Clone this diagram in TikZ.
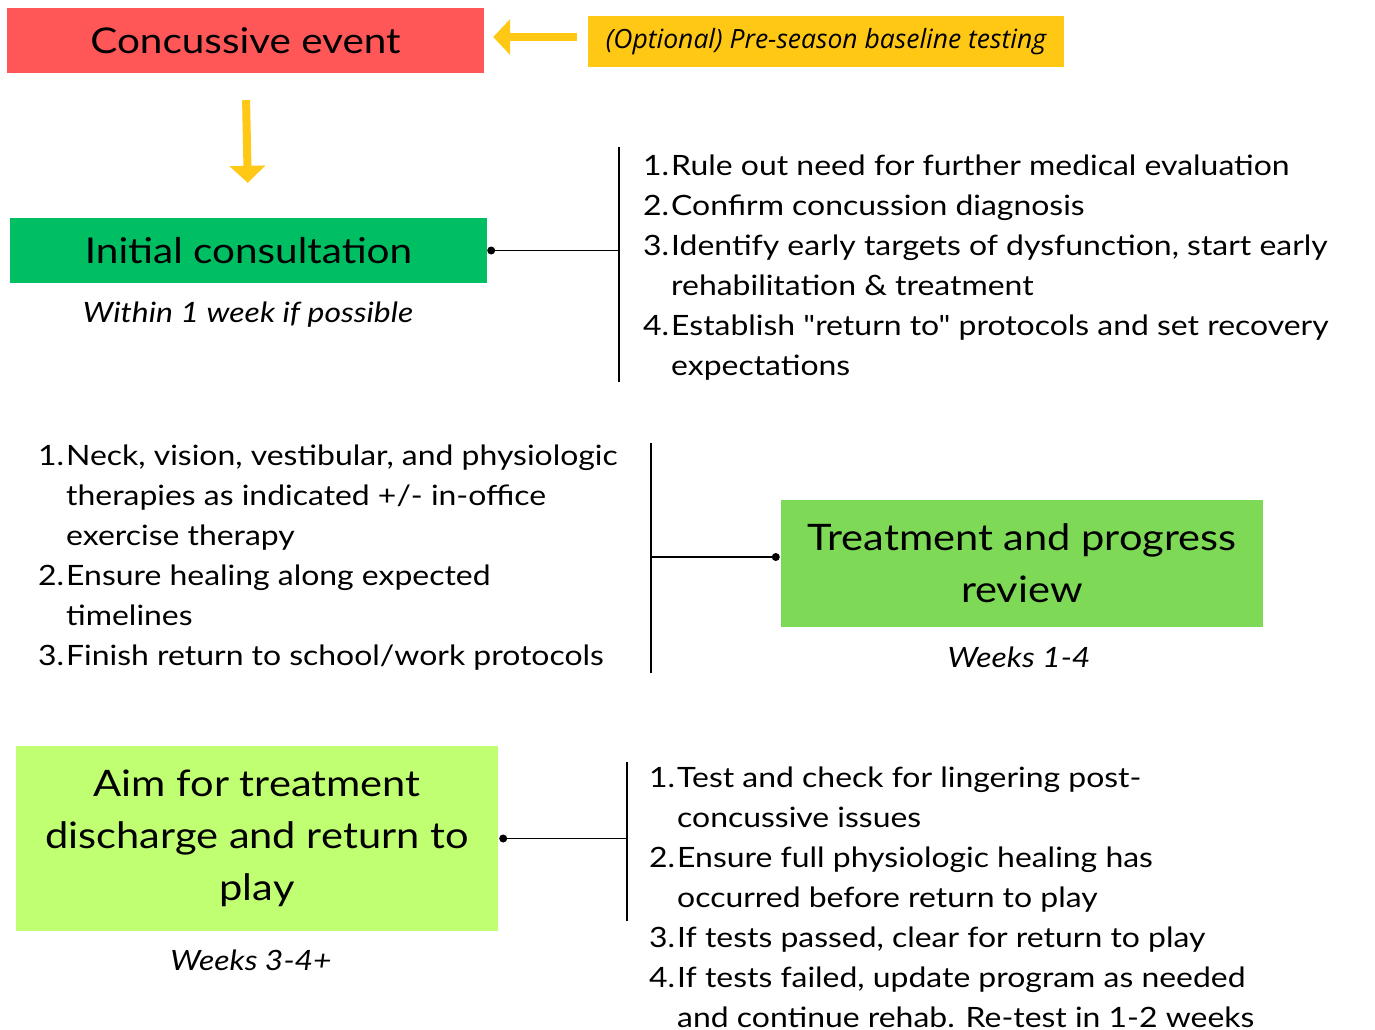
\documentclass[tikz,border=0pt]{standalone}
\usepackage{fontspec}
\setmainfont{Lato}[FakeStretch=1.14, Ligatures=TeXOff]
\newfontfamily\osans{Open Sans}
\usetikzlibrary{arrows.meta}
\definecolor{cred}{HTML}{FF5757}
\definecolor{cyel}{HTML}{FFC815}
\definecolor{cgreenA}{HTML}{00BF63}
\definecolor{cgreenB}{HTML}{7ED957}
\definecolor{cgreenC}{HTML}{C1FF72}
\definecolor{carrow}{HTML}{FFC815}
\newcommand{\itm}[2]{\hangindent=28pt\hangafter=1\noindent\makebox[28pt][l]{#1}#2\par}
\newcommand{\lst}[1]{\vtop{\hsize=760pt\parindent=0pt\parskip=0pt\baselineskip=40pt #1}}
\tikzset{
  box/.style={fill=#1, draw=none, inner sep=0pt, align=center, text=black},
  yarrow/.style={draw=carrow, line width=8pt, -{Triangle[length=17pt,width=35pt]}},
  conn/.style={draw=black, line width=1.8pt},
  dotc/.style={circle, fill=black, inner sep=0pt, minimum size=8pt},
  lbl/.style={font=\itshape\fontsize{28}{34}\selectfont, inner sep=0pt, anchor=base},
  listtxt/.style={inner sep=0pt, anchor=base west, font=\fontsize{28}{40}\selectfont},
  headA/.style={font=\fontsize{35.5}{44}\selectfont},
  headB/.style={font=\fontsize{36.5}{52}\selectfont}
}
\begin{document}
\begin{tikzpicture}[x=1pt,y=-1pt]
\useasboundingbox[fill=white] (0,0) rectangle (1375,1029);

% top row
\node[box=cred, minimum width=477pt, minimum height=65pt, headA] (ce) at (245.5,40.5) {Concussive event};
\node[box=cyel, minimum width=476pt, minimum height=51pt, font=\osans\itshape\fontsize{26.5}{32}\selectfont] (pre) at (826,41.5) {(Optional) Pre-season baseline testing};
\draw[yarrow, shorten <=11pt, shorten >=9pt] ([yshift=4.5pt]pre.west) -- ([yshift=3.5pt]ce.east);

% initial consultation
\node[box=cgreenA, minimum width=477pt, minimum height=65pt, headA] (ic) at (248.5,250.5) {Initial consultation};
\draw[yarrow, shorten <=27pt, shorten >=35pt] (ce.south) -- (ic.north);
\node[lbl] (icl) at (248,322) {Within 1 week if possible};
\node[dotc] (d1) at ([xshift=4pt]ic.east) {};
\coordinate (j1) at (619,250.5);
\coordinate (b1t) at (619,147);
\coordinate (b1b) at (619,382);
\draw[conn] (d1.center) -- (j1);
\draw[conn] (b1t) -- (b1b);
\node[listtxt] (l1) at (643,175) {\lst{%
\itm{1.}{Rule out need for further medical evaluation}
\itm{2.}{Confirm concussion diagnosis}
\itm{3.}{Identify early targets of dysfunction, start early\\rehabilitation \& treatment}
\itm{4.}{Establish "return to" protocols and set recovery\\expectations}}};

% treatment and progress review
\node[box=cgreenB, minimum width=482pt, minimum height=127pt, headB] (tp) at (1022,563.5) {Treatment and progress\\review};
\node[lbl] (tpl) at (1019,667) {Weeks 1-4};
\node[dotc] (d2) at ([xshift=-5pt,yshift=6.5pt]tp.west) {};
\coordinate (j2) at (651,557);
\coordinate (b2t) at (651,443);
\coordinate (b2b) at (651,673);
\draw[conn] (d2.center) -- (j2);
\draw[conn] (b2t) -- (b2b);
\node[listtxt] (l2) at (38,465) {\lst{%
\itm{1.}{Neck, vision, vestibular, and physiologic\\therapies as indicated +/- in-office\\exercise therapy}
\itm{2.}{Ensure healing along expected\\timelines}
\itm{3.}{Finish return to school/work protocols}}};

% discharge
\node[box=cgreenC, minimum width=482pt, minimum height=185pt, headB] (ad) at (257,838.5) {Aim for treatment\\discharge and return to\\play};
\node[lbl] (adl) at (251,970) {Weeks 3-4+};
\node[dotc] (d3) at ([xshift=5pt]ad.east) {};
\coordinate (j3) at (627,838.5);
\coordinate (b3t) at (627,762);
\coordinate (b3b) at (627,921);
\draw[conn] (d3.center) -- (j3);
\draw[conn] (b3t) -- (b3b);
\node[listtxt] (l3) at (649,787) {\lst{%
\itm{1.}{Test and check for lingering post-\\concussive issues}
\itm{2.}{Ensure full physiologic healing has\\occurred before return to play}
\itm{3.}{If tests passed, clear for return to play}
\itm{4.}{If tests failed, update program as needed\\and continue rehab. Re-test in 1-2 weeks}}};
\end{tikzpicture}
\end{document}
